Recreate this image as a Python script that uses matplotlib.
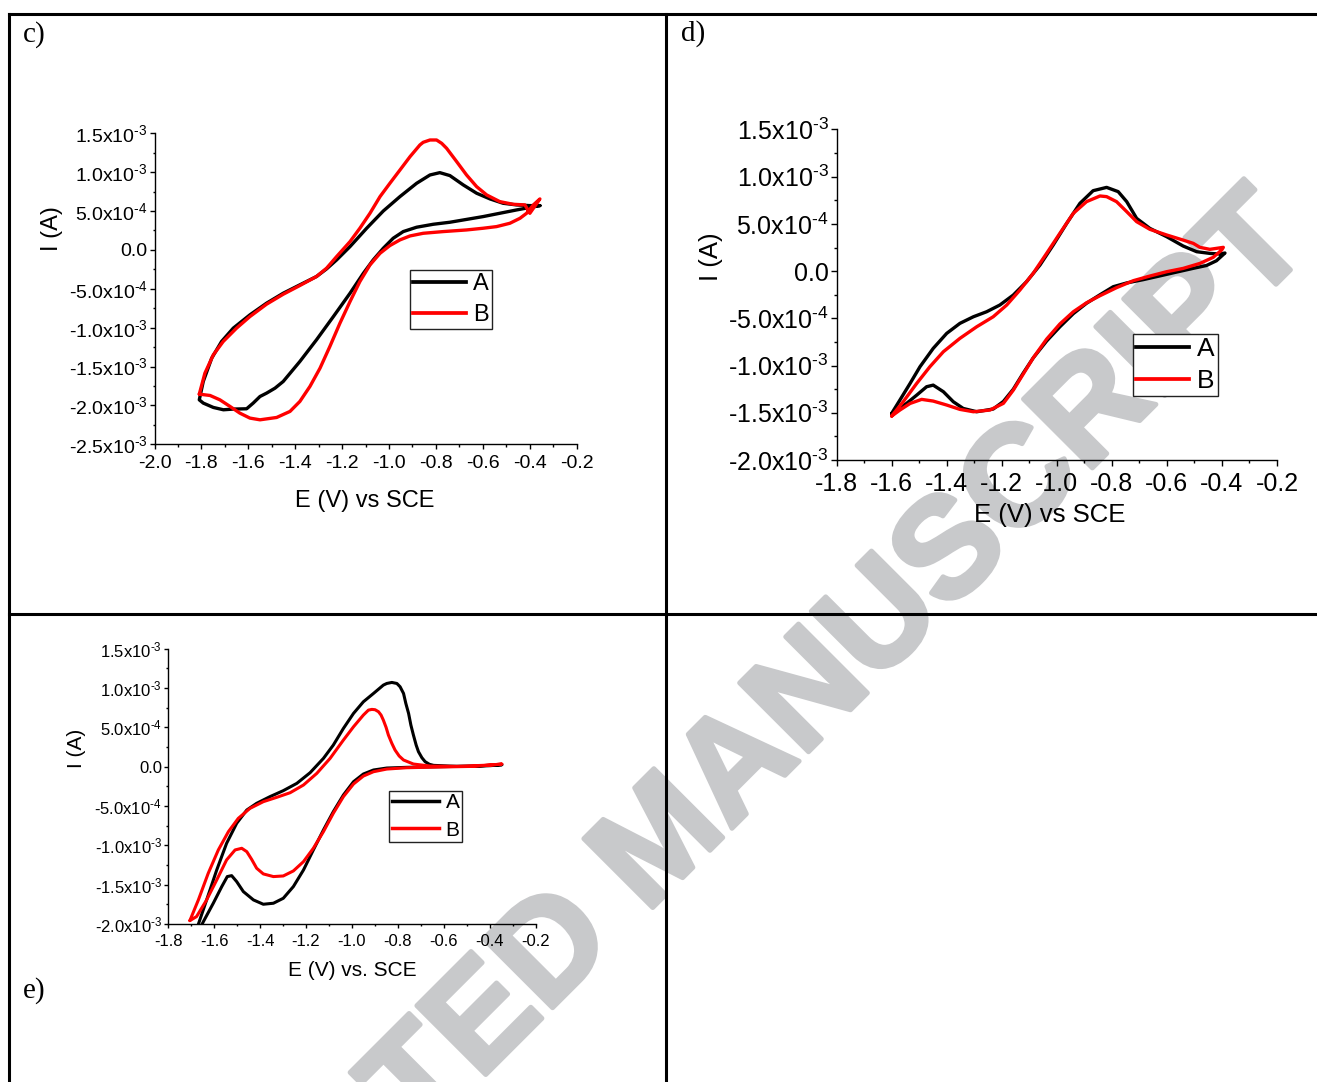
import matplotlib
matplotlib.use('Agg')
import matplotlib.pyplot as plt
import matplotlib.patheffects as pe
from matplotlib.lines import Line2D
from matplotlib.ticker import MultipleLocator

plt.rcParams['font.family'] = ['Liberation Sans', 'DejaVu Sans']
plt.rcParams['mathtext.fontset'] = 'custom'
plt.rcParams['mathtext.rm'] = 'Liberation Sans'
plt.rcParams['mathtext.it'] = 'Liberation Sans'
plt.rcParams['mathtext.bf'] = 'Liberation Sans:bold'
plt.rcParams['mathtext.default'] = 'rm'

# ---- data (current in units of 1e-3 A) ----
# panel c
c_A_E = [-0.356, -0.456, -0.598, -0.740, -0.811, -0.882, -0.939, -0.982, -1.024, -1.067, -1.109, -1.166, -1.237,
         -1.309, -1.380, -1.451, -1.486, -1.522, -1.550, -1.579, -1.607, -1.664, -1.706, -1.749, -1.792, -1.809,
         -1.792, -1.756, -1.714, -1.664, -1.593, -1.522, -1.451, -1.380, -1.309, -1.266, -1.223, -1.166, -1.095,
         -1.024, -0.953, -0.882, -0.825, -0.783, -0.740, -0.683, -0.626, -0.569, -0.513, -0.456, -0.399, -0.356]
c_A_I = [0.570, 0.514, 0.429, 0.356, 0.330, 0.292, 0.236, 0.150, 0.022, -0.128, -0.300, -0.557, -0.857,
         -1.156, -1.435, -1.692, -1.778, -1.842, -1.885, -1.970, -2.043, -2.047, -2.056, -2.026, -1.970, -1.928,
         -1.692, -1.392, -1.178, -1.006, -0.835, -0.685, -0.557, -0.449, -0.342, -0.244, -0.128, 0.043, 0.279,
         0.501, 0.686, 0.857, 0.964, 0.994, 0.956, 0.836, 0.729, 0.656, 0.600, 0.579, 0.570, 0.570]
c_B_E = [-1.809, -1.785, -1.749, -1.707, -1.650, -1.593, -1.522, -1.451, -1.380, -1.309, -1.266, -1.223, -1.166,
         -1.124, -1.081, -1.038, -0.996, -0.953, -0.910, -0.868, -0.854, -0.825, -0.797, -0.775, -0.754, -0.711,
         -0.669, -0.626, -0.583, -0.527, -0.470, -0.420, -0.399, -0.356, -0.384, -0.413, -0.441, -0.484, -0.541,
         -0.598, -0.669, -0.768, -0.854, -0.910, -0.953, -0.996, -1.038, -1.081, -1.124, -1.166, -1.209, -1.252,
         -1.294, -1.337, -1.380, -1.422, -1.479, -1.550, -1.593, -1.636, -1.678, -1.721, -1.763, -1.809]
c_B_I = [-1.855, -1.585, -1.349, -1.178, -1.006, -0.857, -0.698, -0.570, -0.458, -0.342, -0.235, -0.085, 0.107,
         0.279, 0.471, 0.686, 0.857, 1.028, 1.200, 1.350, 1.384, 1.414, 1.414, 1.371, 1.307, 1.135,
         0.964, 0.814, 0.707, 0.621, 0.587, 0.579, 0.471, 0.656, 0.579, 0.471, 0.407, 0.343, 0.300,
         0.279, 0.257, 0.236, 0.214, 0.180, 0.129, 0.056, -0.043, -0.193, -0.407, -0.664, -0.942, -1.242,
         -1.521, -1.756, -1.949, -2.077, -2.155, -2.185, -2.163, -2.099, -2.013, -1.928, -1.872, -1.855]

# panel d
d_A_E = [-1.600, -1.570, -1.533, -1.497, -1.449, -1.400, -1.352, -1.303, -1.255, -1.207, -1.158, -1.110, -1.061,
         -1.013, -0.964, -0.916, -0.868, -0.819, -0.777, -0.746, -0.710, -0.662, -0.601, -0.541, -0.492, -0.444,
         -0.407, -0.389,
         -0.420, -0.456, -0.504, -0.565, -0.625, -0.686, -0.746, -0.795, -0.843, -0.892, -0.940, -0.989, -1.037,
         -1.086, -1.122, -1.158, -1.194, -1.231, -1.291, -1.340, -1.376, -1.412, -1.449, -1.473, -1.509, -1.546,
         -1.582, -1.600]
d_A_I = [-1.507, -1.365, -1.189, -1.012, -0.818, -0.659, -0.553, -0.483, -0.430, -0.359, -0.253, -0.112, 0.065,
         0.277, 0.506, 0.718, 0.852, 0.887, 0.842, 0.736, 0.559, 0.453, 0.365, 0.266, 0.206, 0.188,
         0.181, 0.192,
         0.110, 0.060, 0.030, -0.010, -0.050, -0.090, -0.125, -0.165, -0.250, -0.340, -0.450, -0.590, -0.740,
         -0.920, -1.080, -1.250, -1.380, -1.460, -1.489, -1.454, -1.383, -1.277, -1.207, -1.224, -1.313, -1.401,
         -1.471, -1.507]
d_B_E = [-1.600, -1.558, -1.509, -1.461, -1.412, -1.352, -1.291, -1.231, -1.182, -1.134, -1.086, -1.037, -0.989,
         -0.940, -0.892, -0.843, -0.819, -0.783, -0.746, -0.710, -0.662, -0.601, -0.541, -0.504, -0.480, -0.444,
         -0.395,
         -0.401, -0.432, -0.480, -0.541, -0.601, -0.662, -0.722, -0.783, -0.843, -0.892, -0.940, -0.989, -1.037,
         -1.086, -1.122, -1.158, -1.194, -1.243, -1.303, -1.352, -1.400, -1.449, -1.491, -1.533, -1.570, -1.600]
d_B_I = [-1.535, -1.383, -1.189, -1.012, -0.853, -0.712, -0.589, -0.483, -0.359, -0.200, -0.024, 0.188, 0.400,
         0.612, 0.736, 0.796, 0.789, 0.736, 0.630, 0.524, 0.443, 0.383, 0.329, 0.294, 0.252, 0.231,
         0.252,
         0.224, 0.146, 0.082, 0.029, -0.006, -0.052, -0.101, -0.175, -0.260, -0.335, -0.430, -0.560, -0.720,
         -0.920, -1.090, -1.260, -1.400, -1.471, -1.489, -1.464, -1.418, -1.376, -1.358, -1.401, -1.471, -1.535]

# panel e
e_A_E = [-1.700, -1.669, -1.633, -1.589, -1.546, -1.502, -1.458, -1.415, -1.357, -1.299, -1.240, -1.182, -1.124,
         -1.081, -1.037, -0.993, -0.950, -0.906, -0.863, -0.848, -0.826, -0.804, -0.790, -0.775, -0.765, -0.753,
         -0.743, -0.732, -0.720, -0.710, -0.695, -0.681, -0.662, -0.644, -0.543, -0.470, -0.397, -0.346,
         -0.470, -0.615, -0.761, -0.848, -0.906, -0.950, -0.993, -1.037, -1.081, -1.124, -1.168, -1.211, -1.255,
         -1.299, -1.342, -1.386, -1.429, -1.473, -1.502, -1.524, -1.543, -1.567, -1.604, -1.647, -1.669, -1.700]
e_A_I = [-2.300, -2.004, -1.695, -1.314, -0.975, -0.720, -0.551, -0.466, -0.381, -0.305, -0.212, -0.076, 0.106,
         0.275, 0.487, 0.678, 0.826, 0.932, 1.038, 1.059, 1.072, 1.059, 1.017, 0.932, 0.805, 0.678,
         0.530, 0.403, 0.275, 0.191, 0.114, 0.064, 0.030, 0.017, 0.004, 0.004, 0.013, 0.025,
         0.008, 0.000, -0.008, -0.017, -0.042, -0.093, -0.191, -0.360, -0.572, -0.805, -1.059, -1.314, -1.525,
         -1.674, -1.737, -1.750, -1.695, -1.589, -1.462, -1.386, -1.398, -1.525, -1.737, -1.970, -2.097, -2.300]
e_B_E = [-1.706, -1.669, -1.626, -1.582, -1.538, -1.495, -1.444, -1.386, -1.328, -1.269, -1.211, -1.153, -1.095,
         -1.037, -0.993, -0.950, -0.928, -0.913, -0.899, -0.884, -0.873, -0.863, -0.851, -0.841, -0.826, -0.812,
         -0.794, -0.775, -0.732, -0.659, -0.543, -0.397, -0.346,
         -0.470, -0.615, -0.761, -0.848, -0.906, -0.950, -0.993, -1.037, -1.081, -1.124, -1.168, -1.211, -1.255,
         -1.299, -1.342, -1.386, -1.415, -1.437, -1.458, -1.480, -1.509, -1.546, -1.589, -1.633, -1.677, -1.706]
e_B_I = [-1.958, -1.695, -1.356, -1.059, -0.826, -0.657, -0.530, -0.445, -0.390, -0.331, -0.233, -0.085, 0.106,
         0.339, 0.508, 0.657, 0.720, 0.729, 0.725, 0.699, 0.657, 0.593, 0.500, 0.403, 0.297, 0.212,
         0.136, 0.085, 0.034, 0.008, 0.004, 0.021, 0.034,
         0.004, -0.004, -0.013, -0.030, -0.064, -0.119, -0.220, -0.381, -0.593, -0.826, -1.038, -1.208, -1.326,
         -1.390, -1.398, -1.364, -1.292, -1.178, -1.081, -1.038, -1.059, -1.186, -1.441, -1.695, -1.907, -1.958]

series_names = ['A', 'B']
series_colors = ['black', 'red']

x_ticks_c = [-2.0, -1.8, -1.6, -1.4, -1.2, -1.0, -0.8, -0.6, -0.4, -0.2]
x_labels_c = ['-2.0', '-1.8', '-1.6', '-1.4', '-1.2', '-1.0', '-0.8', '-0.6', '-0.4', '-0.2']
x_ticks_de = [-1.8, -1.6, -1.4, -1.2, -1.0, -0.8, -0.6, -0.4, -0.2]
x_labels_de = ['-1.8', '-1.6', '-1.4', '-1.2', '-1.0', '-0.8', '-0.6', '-0.4', '-0.2']
y_ticks_c = [1.5e-3, 1.0e-3, 5.0e-4, 0.0, -5.0e-4, -1.0e-3, -1.5e-3, -2.0e-3, -2.5e-3]
y_labels_c = [r'1.5x10$^{\text{-}3}$', r'1.0x10$^{\text{-}3}$', r'5.0x10$^{\text{-}4}$', '0.0',
              r'-5.0x10$^{\text{-}4}$', r'-1.0x10$^{\text{-}3}$', r'-1.5x10$^{\text{-}3}$',
              r'-2.0x10$^{\text{-}3}$', r'-2.5x10$^{\text{-}3}$']
y_ticks_de = y_ticks_c[:-1]
y_labels_de = y_labels_c[:-1]

W, H = 1317, 1082
fig = plt.figure(figsize=(W / 100, H / 100), dpi=100)

# background: table lines + watermark, in pixel coordinates
bg = fig.add_axes([0, 0, 1, 1])
bg.set_xlim(0, W)
bg.set_ylim(H, 0)
bg.axis('off')
wm = bg.text(664, 844, 'ACCEPTED MANUSCRIPT', rotation=45, rotation_mode='anchor',
             ha='center', va='center', fontsize=102, fontweight='bold', color='#c8c9cb', zorder=0)
wm.set_path_effects([pe.withStroke(linewidth=3.5, foreground='#c8c9cb')])
for xs, ys in [([9, W], [14, 14]), ([9, W], [614, 614]), ([9, 9], [14, H]), ([666, 666], [14, H])]:
    bg.plot(xs, ys, color='black', lw=2.2, solid_capstyle='projecting', zorder=3)

serif = ['Liberation Serif', 'DejaVu Serif']
bg.text(23, 35, 'c)', fontsize=21, family=serif, va='center', ha='left')
bg.text(681, 34, 'd)', fontsize=21, family=serif, va='center', ha='left')
bg.text(23, 991, 'e)', fontsize=21, family=serif, va='center', ha='left')


def px_rect(left, right, top, bottom):
    return [left / W, 1 - bottom / H, (right - left) / W, (bottom - top) / H]


def make_panel(rect, curves, xlim, ylim, xt, xl, yt, yl, tick_fs, lab_fs, xlab, xlab_pos, ylab_pos,
               leg_pos, leg_fs, leg_hl, leg_sp, lw, tlen):
    ax = fig.add_axes(px_rect(*rect), facecolor='none')
    for (E, I), col in zip(curves, series_colors):
        ax.plot(E, [v * 1e-3 for v in I], color=col, lw=lw, solid_joinstyle='round', solid_capstyle='round')
    ax.set_xlim(*xlim)
    ax.set_ylim(*ylim)
    for s in ['top', 'right']:
        ax.spines[s].set_visible(False)
    for s in ['left', 'bottom']:
        ax.spines[s].set_linewidth(1.0)
    ax.set_xticks(xt)
    ax.set_xticklabels(xl)
    ax.set_yticks(yt)
    ax.set_yticklabels(yl)
    ax.xaxis.set_minor_locator(MultipleLocator(0.1))
    ax.yaxis.set_minor_locator(MultipleLocator(0.25e-3))
    ax.tick_params(which='major', direction='out', length=tlen, width=1.0, labelsize=tick_fs)
    ax.tick_params(which='minor', direction='out', length=tlen * 0.5, width=1.0)
    ax.tick_params(axis='x', pad=4)
    ax.tick_params(axis='y', pad=1.5)
    bg.text(xlab_pos[0], xlab_pos[1], xlab, fontsize=lab_fs, ha='center', va='center')
    bg.text(ylab_pos[0], ylab_pos[1], 'I (A)', fontsize=lab_fs, ha='center', va='center', rotation=90)
    handles = [Line2D([], [], color=c, lw=lw + 0.3) for c in series_colors]
    leg = ax.legend(handles, series_names, loc='upper left',
                    bbox_to_anchor=(leg_pos[0] / W, 1 - leg_pos[1] / H), bbox_transform=fig.transFigure,
                    fontsize=leg_fs, frameon=True, fancybox=False, framealpha=1, edgecolor='#222222',
                    borderpad=0.12, borderaxespad=0, handlelength=leg_hl, handletextpad=0.3,
                    labelspacing=leg_sp)
    leg.get_frame().set_linewidth(1.0)
    return ax


make_panel((154.5, 576.5, 133.3, 444.3), [(c_A_E, c_A_I), (c_B_E, c_B_I)],
           (-2.0, -0.2), (-2.5e-3, 1.5e-3), x_ticks_c, x_labels_c, y_ticks_c, y_labels_c,
           14, 17, 'E (V) vs SCE', (365, 501), (52, 229), (410, 270), 17, 2.25, 0.4, 2.4, 3.6)

make_panel((836.6, 1277, 129.5, 460), [(d_A_E, d_A_I), (d_B_E, d_B_I)],
           (-1.8, -0.2), (-2.0e-3, 1.5e-3), x_ticks_de, x_labels_de, y_ticks_de, y_labels_de,
           18, 18.5, 'E (V) vs SCE', (1050, 515), (711, 257), (1133, 334), 19, 2.0, 0.3, 2.4, 4.3)

make_panel((168.3, 535.5, 648.8, 923.9), [(e_A_E, e_A_I), (e_B_E, e_B_I)],
           (-1.8, -0.2), (-2.0e-3, 1.5e-3), x_ticks_de, x_labels_de, y_ticks_de, y_labels_de,
           12, 15, 'E (V) vs. SCE', (352, 970), (77, 748), (389, 791), 15, 2.3, 0.39, 2.2, 3.0)

fig.savefig('out.png', dpi=100)
